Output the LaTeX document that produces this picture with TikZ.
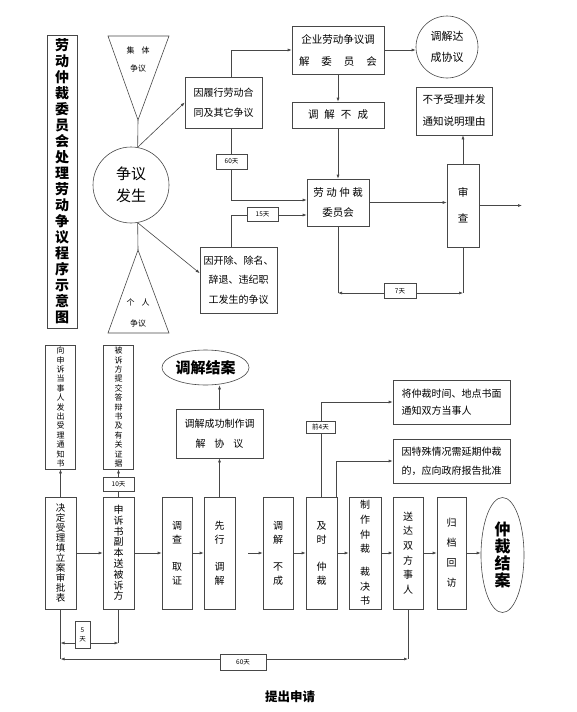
\documentclass[tikz,border=0pt]{standalone}
\usepackage{fontspec}
\setmainfont{Noto Sans CJK SC}
\usetikzlibrary{arrows.meta,shapes.geometric,calc}
\begin{document}
\begin{tikzpicture}[x=1pt,y=-1pt,
  lc/.style={draw=black!72, line width=0.6pt},
  box/.style={lc, fill=white, rectangle, inner sep=0pt, align=center},
  arr/.style={lc, -{Latex[length=4pt,width=3pt]}},
  darr/.style={lc, {Latex[length=4pt,width=3pt]}-{Latex[length=4pt,width=3pt]}},
  lab/.style={box, font=\fontsize{6.5}{9}\selectfont},
  oval/.style={lc, ellipse, inner sep=0pt, align=center}
]
\fill[white] (0,0) rectangle (576,712);
\useasboundingbox (0,0) rectangle (576,712);

% title
\node[box, minimum width=30pt, minimum height=293pt, font=\bfseries\fontsize{14}{16}\selectfont] (T) at (62,181.5)
 {劳\\动\\仲\\裁\\委\\员\\会\\处\\理\\劳\\动\\争\\议\\程\\序\\示\\意\\图};

% triangles
\draw[lc] (108,36) -- (169,36) -- (138,120) -- cycle;
\coordinate (t1) at (138,120);
\node[font=\fontsize{8}{10}\selectfont] (t1a) at (138,50) {集\hspace{7pt}体};
\node[font=\fontsize{8}{10}\selectfont] (t1b) at (138,68) {争议};
\draw[lc] (108,333) -- (169,333) -- (138,250) -- cycle;
\coordinate (t2) at (138,250);
\node[font=\fontsize{8}{10}\selectfont] (t2a) at (138,302) {个\hspace{7pt}人};
\node[font=\fontsize{8}{10}\selectfont] (t2b) at (138,323) {争议};

% circle
\node[lc, circle, minimum size=76pt, inner sep=0pt, align=center, font=\fontsize{15}{22}\selectfont] (O) at (131,185) {争议\\发生};

% upper boxes
\node[box, minimum width=77pt, minimum height=51pt, font=\fontsize{10}{20}\selectfont] (A) at (223.5,102.5) {因履行劳动合\\同及其它争议};
\node[box, minimum width=77pt, minimum height=66pt, font=\fontsize{10}{19.5}\selectfont] (B) at (238.5,280) {因开除、除名、\\辞退、违纪职\\工发生的争议};
\node[box, minimum width=92pt, minimum height=48pt, font=\fontsize{10.5}{22}\selectfont] (C) at (338,50) {企业劳动争议调\\解\hspace{12pt}委\hspace{12pt}员\hspace{12pt}会};
\node[lc, circle, minimum size=62pt, inner sep=0pt, align=center, font=\fontsize{11}{21}\selectfont] (D) at (447,47) {调解达\\成协议};
\node[box, minimum width=92pt, minimum height=26pt, font=\fontsize{10.5}{12}\selectfont] (E) at (338,115) {调\hspace{6pt}解\hspace{6pt}不\hspace{6pt}成};
\node[box, minimum width=62pt, minimum height=47pt, font=\fontsize{10.5}{20}\selectfont] (F) at (338,202.5) {劳\hspace{2.5pt}动\hspace{2.5pt}仲\hspace{2.5pt}裁\\委员会};
\node[box, minimum width=32pt, minimum height=83pt, font=\fontsize{10.5}{26}\selectfont] (G) at (463,205.5) {审\\查};
\node[box, minimum width=76pt, minimum height=48pt, font=\fontsize{10.5}{22}\selectfont] (H) at (454,111) {不予受理并发\\通知说明理由};
\coordinate (gout) at (522,205.5);

% lower boxes
\node[box, minimum width=30pt, minimum height=124pt, font=\fontsize{8}{9.4}\selectfont] (L1) at (60.5,407) {向\\申\\诉\\当\\事\\人\\发\\出\\受\\理\\通\\知\\书};
\node[box, minimum width=30pt, minimum height=124pt, font=\fontsize{8}{9.4}\selectfont] (L2) at (118.5,407) {被\\诉\\方\\提\\交\\答\\辩\\书\\及\\有\\关\\证\\据};

\node[box, minimum width=31pt, minimum height=112pt, font=\fontsize{9.5}{10}\selectfont] (B1) at (60.5,553) {决\\定\\受\\理\\填\\立\\案\\审\\批\\表};
\node[box, minimum width=31pt, minimum height=112pt, font=\fontsize{10}{10.8}\selectfont] (B2) at (118.5,553) {申\\诉\\书\\副\\本\\送\\被\\诉\\方};
\node[box, minimum width=30pt, minimum height=112pt, font=\fontsize{10}{14}\selectfont] (B3) at (177,553) {调\\查\\[13pt]取\\证};
\node[box, minimum width=31pt, minimum height=112pt, font=\fontsize{10}{14}\selectfont] (B4) at (219.5,553) {先\\行\\[13pt]调\\解};
\node[box, minimum width=30pt, minimum height=112pt, font=\fontsize{10}{14}\selectfont] (B5) at (278,553) {调\\解\\[13pt]不\\成};
\node[box, minimum width=31pt, minimum height=112pt, font=\fontsize{10}{14}\selectfont] (B6) at (321.5,553) {及\\时\\[13pt]仲\\裁};
\node[box, minimum width=32pt, minimum height=112pt, font=\fontsize{10}{14.7}\selectfont] (B7) at (365,553) {制\\作\\仲\\裁\\[8pt]裁\\决\\书};
\node[box, minimum width=30pt, minimum height=112pt, font=\fontsize{10}{14.6}\selectfont] (B8) at (408,553) {送\\达\\双\\方\\事\\人};
\node[box, minimum width=29pt, minimum height=112pt, font=\fontsize{10}{20}\selectfont] (B9) at (451.5,553) {归\\档\\回\\访};
\node[oval, minimum width=43pt, minimum height=115pt, font=\bfseries\fontsize{16}{17}\selectfont] (E2) at (502.5,555) {仲\\裁\\结\\案};
\coordinate (c45) at (248,553);

\node[box, minimum width=87pt, minimum height=49pt, font=\fontsize{10}{20}\selectfont] (M) at (219.5,433.5) {调解成功制作调\\解\hspace{9pt}协\hspace{9pt}议};
\node[oval, minimum width=87pt, minimum height=35pt, font=\bfseries\fontsize{15}{17}\selectfont] (N) at (205.5,367.5) {调解结案};

\node[box, minimum width=117pt, minimum height=44pt, align=left, font=\fontsize{10}{17.5}\selectfont] (P1) at (451.5,402) {将仲裁时间、地点书面\\通知双方当事人};
\node[box, minimum width=117pt, minimum height=44pt, align=left, font=\fontsize{10}{19}\selectfont] (P2) at (451.5,461) {因特殊情况需延期仲裁\\的，应向政府报告批准};

\coordinate (d1) at (60.5,659);
\coordinate (d1b) at (60.5,643);
\coordinate (d2) at (118.5,643);
\coordinate (d8) at (408,659);
\coordinate (f7) at (338,293);
\coordinate (g7) at (463,293);

% upper connectors
\draw[lc] (t1) -- (O.80);
\draw[lc] (O.-80) -- (t2);
\draw[arr] (O.80) -- (A.west);
\draw[arr] (O.-80) -- (B.170);
\draw[arr] ([xshift=7.5pt]A.north) |- (C.west);
\draw[arr] (C.east) -- (C.east -| D.west);
\draw[arr] (C.south) -- (E.north);
\draw[arr] (E.south) -- (F.north);
\draw[arr] ([xshift=7.5pt]A.south) |- ([yshift=2.5pt]F.west);
\draw[arr] ([xshift=-7.5pt]B.north) |- ([yshift=-12.5pt]F.west);
\draw[arr] (F.east) -- (F.east -| G.west);
\draw[arr] (G.east) -- (gout);
\draw[arr] (G.north) -- (G.north |- H.south);
\draw[lc] (F.south) -- (f7);
\draw[lc] (G.south) -- (g7);
\draw[darr] (f7) -- (g7);

% lower connectors
\draw[arr] (B1.north) -- (L1.south);
\draw[arr] (B2.north) -- (L2.south);
\draw[arr] (B1.east) -- (B2.west);
\draw[arr] (B2.east) -- (B3.west);
\draw[arr] (B3.east) -- (B4.west);
\draw[arr] (c45) -- (B5.west);
\draw[arr] (B5.east) -- (B6.west);
\draw[arr] (B6.east) -- (B7.west);
\draw[arr] (B7.east) -- (B8.west);
\draw[arr] (B8.east) -- (B9.west);
\draw[arr] (B9.east) -- (B9.east -| E2.west);
\draw[arr] (B4.north) -- (M.south);
\draw[arr] (M.north) -- (M.north |- N.south);
\draw[arr] (B6.north) |- (P1.west);
\draw[arr] ([xshift=14.5pt]B6.north) |- (P2.west);
\draw[lc] (B1.south) -- (d1);
\draw[lc] (B2.south) -- (d2);
\draw[darr] (d1b) -- (d2);
\draw[lc] (B8.south) -- (d8);
\draw[darr] (d1) -- (d8);

% labels
\node[lab, minimum width=31pt, minimum height=15pt] (l60a) at (231.5,161.5) {60天};
\node[lab, minimum width=31pt, minimum height=14pt] (l15) at (262.5,214) {15天};
\node[lab, minimum width=32pt, minimum height=15pt] (l7) at (400,291) {7天};
\node[lab, minimum width=31pt, minimum height=14pt] (l10) at (118.5,484) {10天};
\node[lab, minimum width=29pt, minimum height=12pt] (l4) at (320.5,427) {前4天};
\node[lab, minimum width=15pt, minimum height=27pt] (l5) at (82.5,634.5) {5\\天};
\node[lab, minimum width=46pt, minimum height=16pt] (l60b) at (243,662) {60天};

\node[font=\bfseries\fontsize{12.5}{14}\selectfont] (ttl) at (290,697) {提出申请};
\end{tikzpicture}
\end{document}
